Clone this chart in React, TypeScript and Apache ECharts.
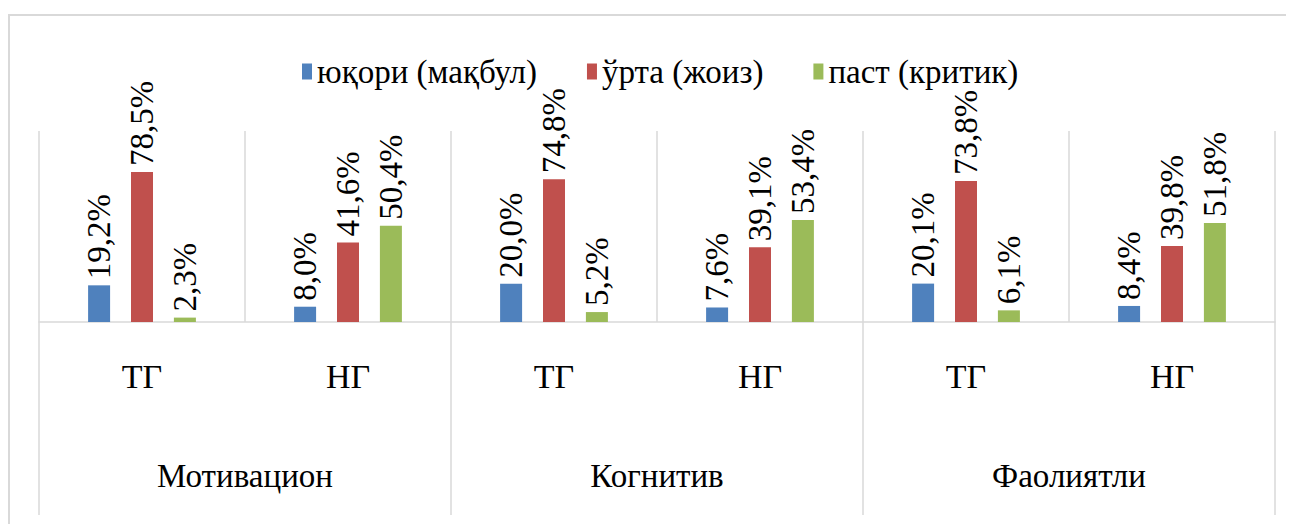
import React, { useEffect, useRef } from "react";
import * as echarts from "echarts";

const subCategories = ["ТГ", "НГ", "ТГ", "НГ", "ТГ", "НГ"];
const groups = ["Мотивацион", "Когнитив", "Фаолиятли"];
const seriesNames = ["юқори (мақбул)", "ўрта (жоиз)", "паст (критик)"];
const highValues = [19.2, 8.0, 20.0, 7.6, 20.1, 8.4];
const midValues = [78.5, 41.6, 74.8, 39.1, 73.8, 39.8];
const lowValues = [2.3, 50.4, 5.2, 53.4, 6.1, 51.8];
const colors = ["#4F81BD", "#C0504D", "#9BBB59"];

const FONT = "Liberation Serif";
const GRID_COLOR = "#d9d9d9";

export default function App() {
  const ref = useRef<HTMLDivElement>(null);
  useEffect(() => {
    if (!ref.current) return;
    const chart = echarts.init(ref.current, null, { renderer: "svg" });
    const fmt = (p: any) => p.value.toFixed(1).replace(".", ",") + "%";
    const mk = (name: string, data: number[], color: string) => ({
      name,
      type: "bar",
      data,
      barWidth: 22,
      barGap: "95%",
      itemStyle: { color },
      label: {
        show: true,
        position: "top",
        rotate: 90,
        align: "left",
        verticalAlign: "middle",
        distance: 6,
        formatter: fmt,
        fontFamily: FONT,
        fontStyle: "normal",
        fontWeight: 400,
        fontSize: 33,
        color: "#000",
      },
    });
    chart.setOption({
      animation: false,
      color: colors,
      textStyle: { fontFamily: FONT },
      legend: {
        left: 289,
        top: 42,
        itemWidth: 10,
        itemHeight: 16,
        itemGap: 50,
        icon: "rect",
        textStyle: { fontFamily: FONT, fontStyle: "normal", fontWeight: 400, fontSize: 33, color: "#000" },
        data: seriesNames,
      },
      grid: { left: 31, right: 19, top: 123, bottom: 202, containLabel: false },
      graphic: [
        {
          type: "rect",
          shape: { x: 1, y: 7, width: 1400, height: 700 },
          style: { fill: "none", stroke: GRID_COLOR, lineWidth: 2 },
          silent: true,
        },
      ],
      xAxis: [
        {
          type: "category",
          data: subCategories,
          position: "bottom",
          axisLine: { show: true, lineStyle: { color: GRID_COLOR, width: 1.5 } },
          axisTick: { show: false },
          splitLine: { show: true, lineStyle: { color: GRID_COLOR, width: 1.5 } },
          axisLabel: { margin: 37, fontFamily: FONT, fontSize: 34, color: "#000", interval: 0 },
        },
        {
          type: "category",
          data: groups,
          position: "bottom",
          axisLine: { show: false },
          axisTick: { show: true, length: 193, interval: 0, lineStyle: { color: GRID_COLOR, width: 1.5 } },
          splitLine: { show: false },
          axisLabel: { margin: 137, fontFamily: FONT, fontSize: 33, color: "#000", interval: 0 },
        },
      ],
      yAxis: { type: "value", min: 0, max: 100, show: false, splitLine: { show: false } },
      series: [
        mk(seriesNames[0], highValues, colors[0]),
        mk(seriesNames[1], midValues, colors[1]),
        mk(seriesNames[2], lowValues, colors[2]),
      ],
    });
    return () => chart.dispose();
  }, []);
  return <div ref={ref} style={{ width: 1286, height: 516 }} />;
}
